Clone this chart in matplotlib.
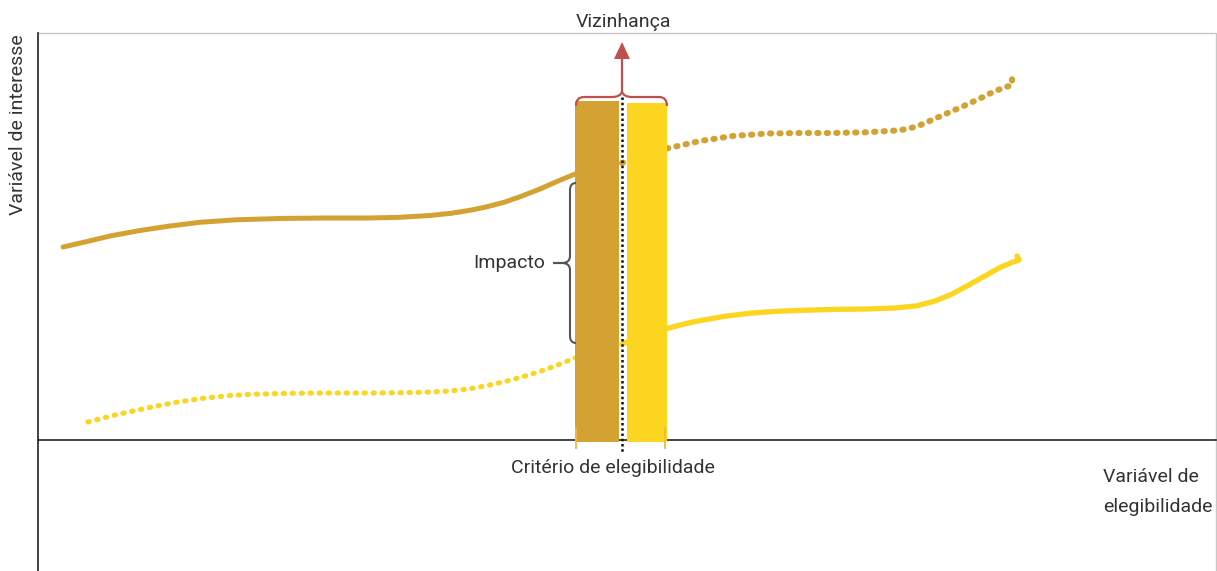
import matplotlib
matplotlib.use("Agg")
import matplotlib.pyplot as plt
from matplotlib.path import Path
from matplotlib.patches import PathPatch

plt.rcParams['font.family'] = ['Roboto', 'DejaVu Sans']

W, H = 1217, 571

# ---- data (in the chart's own drawing units) ----
upper_solid_x = [63, 85, 110, 140, 170, 200, 236, 280, 326, 370, 400, 430, 451, 470, 486, 505, 522, 540, 558, 580]
upper_solid_y = [247, 242, 236, 230.5, 226, 222.3, 219.8, 218.5, 218, 218, 217.3, 215.5, 213.3, 210.3, 207, 202, 196, 189, 181, 172]

upper_dot_x = [622, 645, 667, 700, 733, 767, 800, 833, 866, 900, 917, 933, 950, 967, 983, 993, 1003, 1012, 1012]
upper_dot_y = [163, 155, 148.5, 141, 136, 133.5, 133, 133, 132.3, 130.3, 126.5, 119.5, 112, 104.5, 97, 92, 88, 85, 79]

lower_dot_x = [88, 115, 147, 175, 201, 230, 254, 290, 326, 360, 397, 425, 451, 470, 486, 505, 522, 535, 547, 560, 580]
lower_dot_y = [422, 415, 408, 402.5, 398.5, 395.5, 394.2, 393.3, 393, 393, 392.8, 392.2, 391, 388.7, 385.8, 381.5, 377, 373, 369, 364, 356]

lower_solid_x = [622, 645, 667, 685, 700, 725, 750, 775, 800, 835, 867, 895, 917, 935, 950, 967, 983, 1000, 1013, 1019, 1017]
lower_solid_y = [344, 335, 328.5, 323.8, 320.6, 316.3, 313.2, 311.4, 310.4, 309.4, 309, 308, 305.8, 301, 295, 286, 277, 267.5, 262, 260, 256]

bar_left = [575, 627]
bar_right = [619, 667]
bar_top = [101, 103]
bar_base = 442
cutoff = 622
axis_y = 440
axis_x = 38

DARK = '#D4A233'
YEL = '#FCD520'
RED = '#C0504D'
GRAY = '#555555'

fig = plt.figure(figsize=(W / 100, H / 100), dpi=100)
ax = fig.add_axes([0, 0, 1, 1])
ax.set_xlim(0, W)
ax.set_ylim(H, 0)
ax.axis('off')

# frame
ax.plot([axis_x, 1216, 1216], [33, 33, H], color='#c8c8c8', lw=1.0, zorder=1)
ax.plot([axis_x, axis_x], [33, H], color='#222222', lw=1.2, zorder=2)
ax.plot([axis_x, 1216], [axis_y, axis_y], color='#222222', lw=1.2, zorder=2)

# curves
ax.plot(upper_solid_x, upper_solid_y, color=DARK, lw=3.6, solid_capstyle='round',
        solid_joinstyle='round', zorder=3)
ax.plot(upper_dot_x, upper_dot_y, color=DARK, lw=4.4, linestyle=(0, (0.2, 1.35)),
        dash_capstyle='round', zorder=3)
ax.plot(lower_dot_x, lower_dot_y, color=YEL, lw=3.7, linestyle=(0, (0.25, 1.5)),
        dash_capstyle='round', zorder=3)
ax.plot(lower_solid_x, lower_solid_y, color=YEL, lw=3.8, solid_capstyle='round',
        solid_joinstyle='round', zorder=3)

# bars
for l, r, t, c in zip(bar_left, bar_right, bar_top, [DARK, YEL]):
    ax.bar(l, bar_base - t, width=r - l, bottom=t, align='edge', color=c, zorder=4, linewidth=0)

# small orange ticks at bandwidth edges
for xt in [576, 665]:
    ax.plot([xt, xt], [428, 448], color='#F5B93A', lw=1.3, zorder=5)

# cutoff dotted line
ax.plot([cutoff, cutoff], [97, 454], color='#111111', lw=1.8, linestyle=(0, (1, 1.1)), zorder=6)

# red brace and arrow
brace = Path([(576, 106), (576, 97), (584, 97), (612, 97), (620, 97), (622, 92),
              (624, 97), (632, 97), (659, 97), (667, 97), (667, 106)],
             [Path.MOVETO, Path.CURVE3, Path.CURVE3, Path.LINETO, Path.CURVE3, Path.CURVE3,
              Path.CURVE3, Path.CURVE3, Path.LINETO, Path.CURVE3, Path.CURVE3])
ax.add_patch(PathPatch(brace, fill=False, edgecolor=RED, lw=1.6, zorder=7))
ax.plot([cutoff, cutoff], [92, 56], color=RED, lw=1.6, zorder=7)
ax.fill([cutoff - 8, cutoff + 8, cutoff], [59, 59, 42], color=RED, lw=0, zorder=7)

# impact brace
ib = Path([(576, 183), (570, 183), (570, 190), (570, 256), (570, 263), (562, 263),
           (553, 263), (562, 263), (570, 263), (570, 270), (570, 336), (570, 343), (576, 343)],
          [Path.MOVETO, Path.CURVE3, Path.CURVE3, Path.LINETO, Path.CURVE3, Path.CURVE3,
           Path.LINETO, Path.LINETO, Path.CURVE3, Path.CURVE3, Path.LINETO, Path.CURVE3, Path.CURVE3])
ax.add_patch(PathPatch(ib, fill=False, edgecolor=GRAY, lw=1.5, zorder=5))

# texts
tc = '#333333'
fs = 14
ax.text(623, 22, 'Vizinhança', ha='center', va='center', fontsize=fs, color=tc)
ax.text(509, 263, 'Impacto', ha='center', va='center', fontsize=fs, color=tc)
ax.text(613, 468, 'Critério de elegibilidade', ha='center', va='center', fontsize=fs, color=tc)
ax.text(1103, 477, 'Variável de', ha='left', va='center', fontsize=fs, color=tc)
ax.text(1103, 507, 'elegibilidade', ha='left', va='center', fontsize=fs, color=tc)
ax.text(18, 125, 'Variável de interesse', ha='center', va='center', rotation=90, fontsize=fs, color=tc)

fig.savefig('out.png', dpi=100)
